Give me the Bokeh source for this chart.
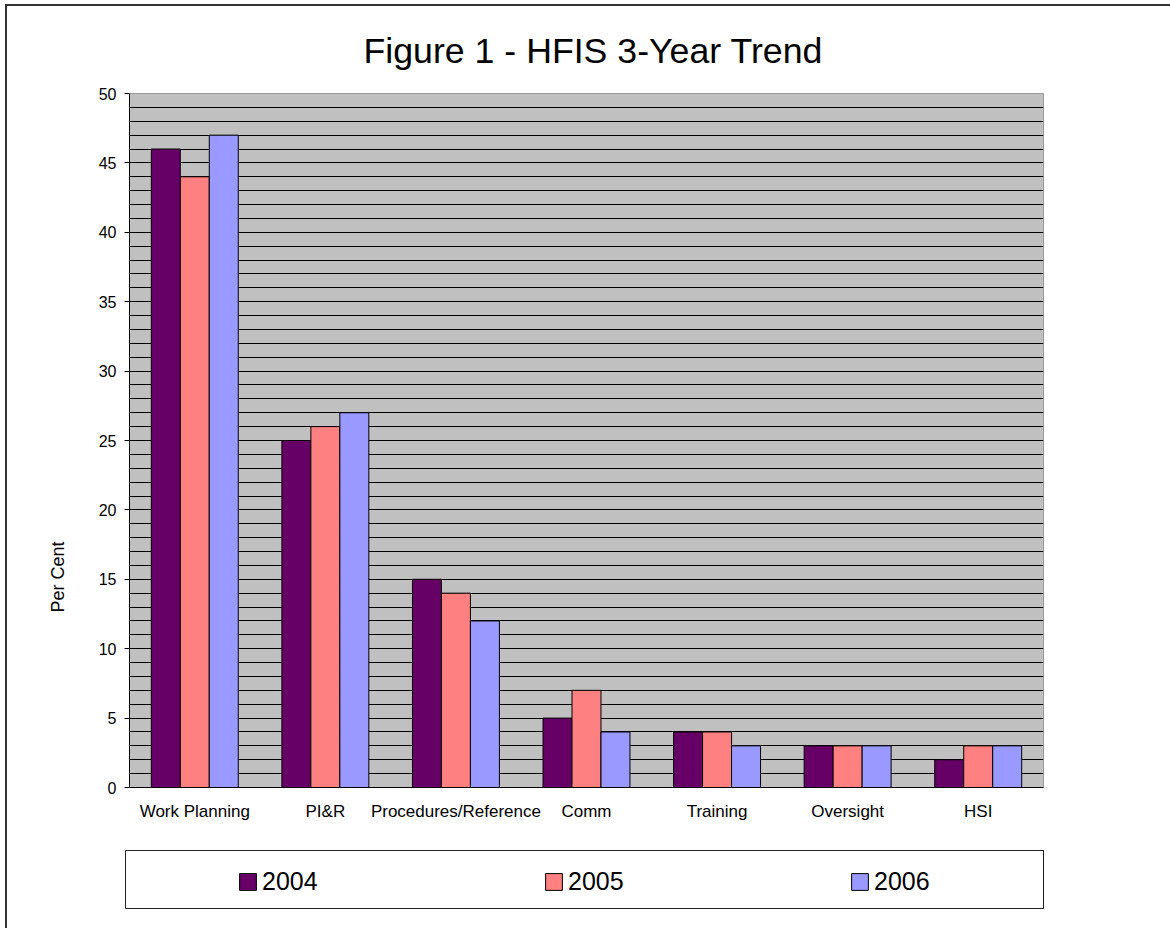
from bokeh.plotting import figure
from bokeh.models import (FactorRange, Range1d, FixedTicker, Title, Legend, LegendItem)
from bokeh.transform import dodge
from bokeh.layouts import column, row
from bokeh.embed import file_html
from bokeh.resources import INLINE

categories = ["Work Planning", "PI&R", "Procedures/Reference", "Comm", "Training", "Oversight", "HSI"]
years = ["2004", "2005", "2006"]
v2004 = [46, 25, 15, 5, 4, 3, 2]
v2005 = [44, 26, 14, 7, 4, 3, 3]
v2006 = [47, 27, 12, 4, 3, 3, 3]
colors = ["#660066", "#FF8080", "#9999FF"]
y_ticks = [0, 5, 10, 15, 20, 25, 30, 35, 40, 45, 50]

FONT = "Liberation Sans"
W = 1163
H1 = 822
H2 = 100

p = figure(width=W, height=H1, x_range=FactorRange(factors=categories, range_padding=0),
           y_range=Range1d(0, 50), output_backend="svg", toolbar_location=None,
           min_border_left=122, min_border_right=127, min_border_top=87, min_border_bottom=41)
p.background_fill_color = "#C0C0C0"
p.border_fill_color = "white"
p.outline_line_color = "#9A9A9A"
p.outline_line_width = 1

data = dict(cat=categories, y2004=v2004, y2005=v2005, y2006=v2006)
bw = 0.222
series = [("y2004", -bw), ("y2005", 0.0), ("y2006", bw)]
for (col, off), c in zip(series, colors):
    p.vbar(x=dodge("cat", off, range=p.x_range), top=col, width=bw, source=data,
           fill_color=c, line_color="black", line_width=1)

p.xgrid.grid_line_color = None
p.ygrid.ticker = FixedTicker(ticks=list(range(0, 51)))
p.ygrid.grid_line_color = "black"
p.ygrid.grid_line_width = 1

p.yaxis.ticker = FixedTicker(ticks=y_ticks)
p.yaxis.minor_tick_line_color = None
p.yaxis.major_tick_out = 5
p.yaxis.major_tick_in = 0
p.yaxis.major_label_standoff = 8
p.yaxis.major_label_text_font = FONT
p.yaxis.major_label_text_font_size = "16px"
p.yaxis.major_label_text_color = "black"
p.yaxis.axis_line_color = "black"
p.yaxis.major_tick_line_color = "black"

p.xaxis.major_tick_line_color = None
p.xaxis.axis_line_color = "black"
p.xaxis.major_label_standoff = 8
p.xaxis.major_label_text_font = FONT
p.xaxis.major_label_text_font_size = "17px"
p.xaxis.major_label_text_color = "black"

p.title = Title(text="Figure 1 - HFIS 3-Year Trend", align="left", offset=234, standoff=45,
                text_font=FONT, text_font_size="35.7px", text_font_style="normal",
                text_color="black")

ylab = Title(text="Per Cent", align="left", offset=175, standoff=56,
             text_font=FONT, text_font_size="18px", text_font_style="normal",
             text_color="black")
p.add_layout(ylab, "left")

# Legend figure
p2 = figure(width=W, height=H2, x_range=Range1d(0, 1), y_range=Range1d(0, 1),
            output_backend="svg", toolbar_location=None,
            min_border_left=118, min_border_right=127, min_border_top=22, min_border_bottom=20)
p2.axis.visible = False
p2.grid.visible = False
p2.background_fill_color = "white"
p2.border_fill_color = "white"
p2.outline_line_color = "#222222"
p2.outline_line_width = 1

items = []
for yr, c in zip(years, colors):
    r = p2.vbar(x=[5], top=[1], width=0.1, fill_color=c, line_color="black", line_width=1)
    items.append(LegendItem(label=yr, renderers=[r]))

leg = Legend(items=items, orientation="horizontal", location=(112, 12),
             glyph_width=21, glyph_height=21, label_standoff=4, label_width=56,
             spacing=225, padding=0, margin=0, border_line_color=None,
             background_fill_alpha=0, label_text_font=FONT, label_text_font_size="25px",
             label_text_color="black")
p2.add_layout(leg)

layout = column(p, row(p2), spacing=0,
                styles={"border-left": "2px solid #333333", "border-top": "2px solid #333333",
                        "margin-left": "5px", "margin-top": "4px"})

open("out.html", "w").write(file_html(layout, INLINE))
